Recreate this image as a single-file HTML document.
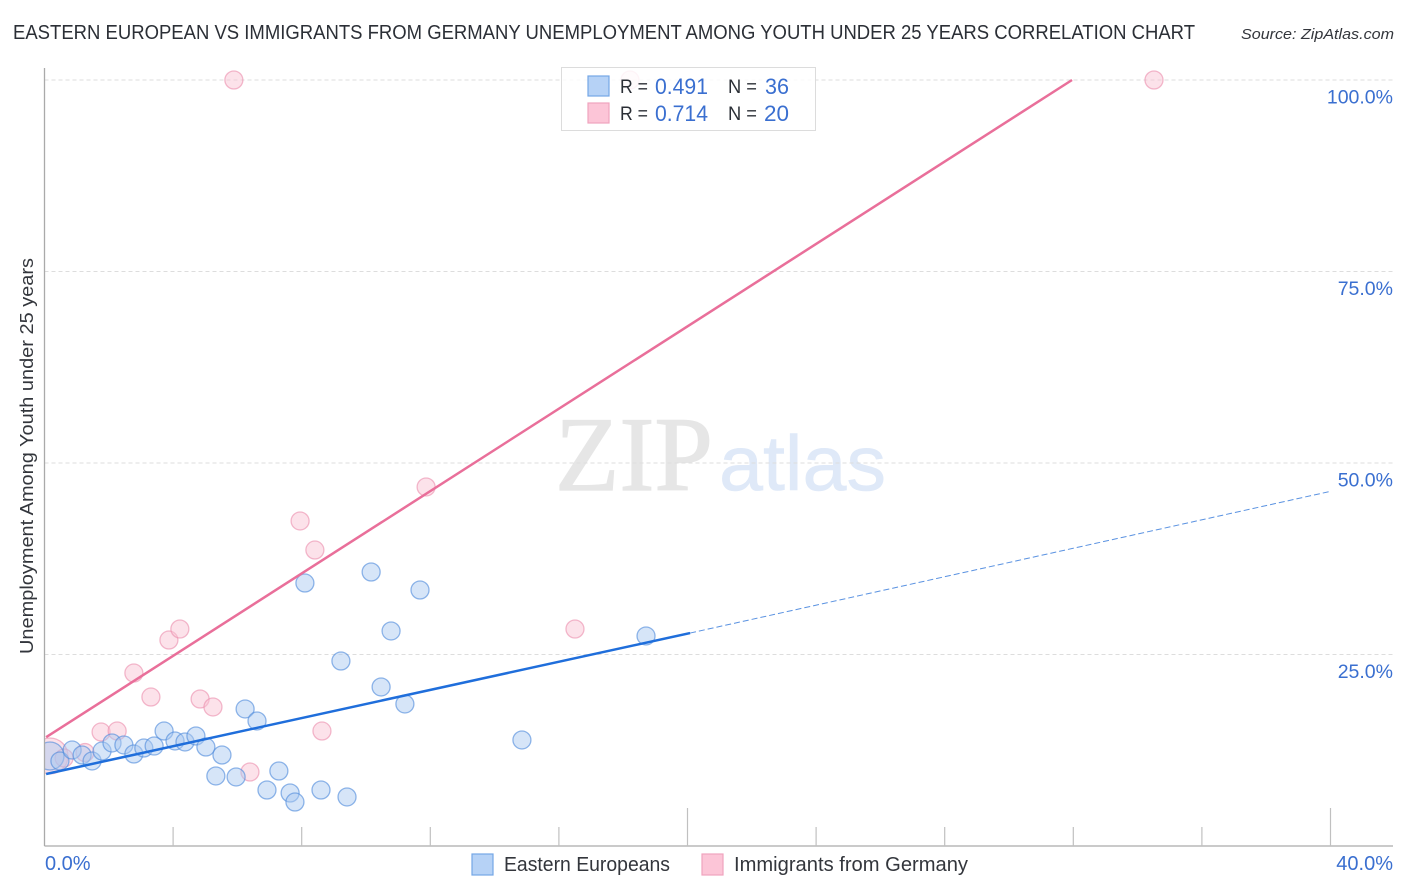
<!DOCTYPE html>
<html>
<head>
<meta charset="utf-8">
<style>
html,body{margin:0;padding:0;background:#fff;}
svg{display:block;}
text{font-family:"Liberation Sans",sans-serif;}
</style>
</head>
<body>
<svg id="chart" width="1406" height="892" viewBox="0 0 1406 892" xmlns="http://www.w3.org/2000/svg">
  <text x="13" y="39" font-size="20" fill="#2b2f36" textLength="1182" lengthAdjust="spacingAndGlyphs">EASTERN EUROPEAN VS IMMIGRANTS FROM GERMANY UNEMPLOYMENT AMONG YOUTH UNDER 25 YEARS CORRELATION CHART</text>
  <text x="1241" y="39" font-size="15" font-style="italic" fill="#33363c" textLength="153" lengthAdjust="spacingAndGlyphs">Source: ZipAtlas.com</text>

  <g>
    <text x="555" y="490" style="font-family:'Liberation Serif',serif" font-size="106" fill="#e6e6e6" stroke="#e6e6e6" stroke-width="1.2" textLength="158" lengthAdjust="spacingAndGlyphs">ZIP</text>
    <text x="719" y="490" font-size="78" fill="#dfe9f8" stroke="#dfe9f8" stroke-width="0.6" textLength="167" lengthAdjust="spacingAndGlyphs">atlas</text>
  </g>

  <g id="grid"></g>
  <g id="pink-points"></g>
  <g id="blue-points"></g>
  <rect x="0" y="725" width="44.5" height="60" fill="#fff"/>
  <g id="axes"></g>
  <g id="trends"></g>
  <g id="labels"></g>

  <text transform="translate(33,654) rotate(-90)" x="0" y="0" font-size="18" fill="#33363c" textLength="396" lengthAdjust="spacingAndGlyphs">Unemployment Among Youth under 25 years</text>

  <g>
    <rect x="561.5" y="67.5" width="254" height="63" fill="#fff" fill-opacity="0.85" stroke="#dcdcdc"/>
    <rect x="588" y="76" width="21" height="20" fill="#b6d2f6" stroke="#74a6e6" stroke-width="1.2"/>
    <rect x="588" y="103" width="21" height="20" fill="#fcc5d7" stroke="#f0a4bd" stroke-width="1.2"/>
    <text x="620" y="93" font-size="19" fill="#2b2f36" textLength="28" lengthAdjust="spacingAndGlyphs">R =</text>
    <text x="655" y="94" font-size="22" fill="#3a6fd0" textLength="53" lengthAdjust="spacingAndGlyphs">0.491</text>
    <text x="728" y="93" font-size="19" fill="#2b2f36" textLength="29" lengthAdjust="spacingAndGlyphs">N =</text>
    <text x="765" y="94" font-size="22" fill="#3a6fd0" textLength="24" lengthAdjust="spacingAndGlyphs">36</text>
    <text x="620" y="120" font-size="19" fill="#2b2f36" textLength="28" lengthAdjust="spacingAndGlyphs">R =</text>
    <text x="655" y="121" font-size="22" fill="#3a6fd0" textLength="53" lengthAdjust="spacingAndGlyphs">0.714</text>
    <text x="728" y="120" font-size="19" fill="#2b2f36" textLength="29" lengthAdjust="spacingAndGlyphs">N =</text>
    <text x="764" y="121" font-size="22" fill="#3a6fd0" textLength="25" lengthAdjust="spacingAndGlyphs">20</text>
  </g>

  <g>
    <g>
      <rect x="472" y="854" width="21" height="21" fill="#b6d2f6" stroke="#74a6e6" stroke-width="1.2"/>
      <text x="504" y="871" font-size="20" fill="#33363c" textLength="166" lengthAdjust="spacingAndGlyphs">Eastern Europeans</text>
    </g>
    <g>
      <rect x="702" y="854" width="21" height="21" fill="#fcc5d7" stroke="#f0a4bd" stroke-width="1.2"/>
      <text x="734" y="871" font-size="20" fill="#33363c" textLength="234" lengthAdjust="spacingAndGlyphs">Immigrants from Germany</text>
    </g>
  </g>
</svg>

<script>
const blueX = [0.17,0.48,0.86,1.17,1.48,1.79,2.10,2.47,2.78,3.09,3.41,3.72,4.06,4.37,4.71,5.02,5.52,5.33,5.96,6.24,6.61,6.92,7.29,7.64,7.79,8.60,9.41,8.10,10.16,11.68,10.78,9.22,10.47,11.21,14.85,18.71];
const blueY = [11.75,11.10,12.53,11.88,11.10,12.40,13.45,13.19,12.01,12.79,13.05,15.01,13.71,13.58,14.36,12.92,11.88,9.14,9.01,17.89,16.32,7.31,9.79,6.92,5.74,7.31,6.40,34.33,35.77,33.42,28.07,24.15,20.76,18.54,13.84,27.42];
const blueLargeWeight = 2.42;
const pinkX = [0.17,0.61,1.26,1.76,2.26,2.78,3.31,3.87,4.21,4.84,5.24,6.39,8.63,7.95,8.41,11.87,16.50,5.89,18.21,34.51];
const pinkY = [11.75,11.49,12.20,14.88,15.01,22.58,19.45,26.89,28.33,19.19,18.15,9.66,15.01,42.43,38.64,46.87,28.33,100,100,100];
const pinkLargeWeight = 4;
const blueTrendX = [0.05,20.08];
const blueTrendY = [9.4,27.8];
const blueForecastX = [20.08,40];
const blueForecastY = [27.8,46.3];
const pinkTrendX = [0.05,31.96];
const pinkTrendY = [14.2,100];
const yTicks = [25,50,75,100];
const yTickLabels = ["25.0%","50.0%","75.0%","100.0%"];
const xTicks = [4,8,12,16,20,24,28,32,36,40];
const xMajorTicks = [20,40];
const xEndTicks = [0,40];
const xEndLabels = ["0.0%","40.0%"];

const NS = 'http://www.w3.org/2000/svg';
const X0 = 44.5, X1 = 1330.5, Y0 = 846, Y100 = 80;
function sx(v){ return X0 + (X1 - X0) * v / 40; }
function sy(v){ return Y0 + (Y100 - Y0) * v / 100; }
function radius(weight){ return 9 * Math.sqrt(weight); }
function mk(tag, attrs){
  const el = document.createElementNS(NS, tag);
  for (const k in attrs) el.setAttribute(k, attrs[k]);
  return el;
}

const grid = document.getElementById('grid');
yTicks.forEach(function(t){
  const l = mk('line', {x1:X0, x2:1393, y1:sy(t), y2:sy(t), stroke:'#dddddd', 'stroke-width':1, 'stroke-dasharray':'4 3'});
  
  
  grid.appendChild(l);
});

const axes = document.getElementById('axes');
const yLine = mk('line', {x1:X0, x2:X0, y1:68, y2:Y0, stroke:'#aaaaaa', 'stroke-width':1.3});


axes.appendChild(yLine);
const xLine = mk('line', {x1:X0, x2:1393, y1:Y0, y2:Y0, stroke:'#aaaaaa', 'stroke-width':1.3});


axes.appendChild(xLine);
xTicks.forEach(function(t){
  const top = xMajorTicks.indexOf(t) >= 0 ? 808 : 827;
  const l = mk('line', {x1:sx(t), x2:sx(t), y1:top, y2:Y0, stroke:'#c0c0c0', 'stroke-width':1.2});
  
  
  axes.appendChild(l);
});

function drawPoints(groupId, xs, ys, largeWeight, fill, stroke, name){
  const g = document.getElementById(groupId);
  xs.forEach(function(x, i){
    const w = i === 0 ? largeWeight : 1;
    const c = mk('circle', {cx:sx(x), cy:sy(ys[i]), r:radius(w), fill:fill, 'fill-opacity':0.48, stroke:stroke, 'stroke-opacity':0.62, 'stroke-width':1.3});
    
    
    g.appendChild(c);
  });
}
drawPoints('pink-points', pinkX, pinkY, pinkLargeWeight, '#f9c3d4', '#ec8fae', 'immigrants-point');
drawPoints('blue-points', blueX, blueY, blueLargeWeight, '#a9c9f1', '#4f8adb', 'eastern-europeans-point');

const trends = document.getElementById('trends');
const blueForecast = mk('line', {x1:sx(blueForecastX[0]), y1:sy(blueForecastY[0]), x2:sx(blueForecastX[1]), y2:sy(blueForecastY[1]), stroke:'#3d7fdc', 'stroke-width':1, 'stroke-opacity':0.85, 'stroke-dasharray':'6 3'});


trends.appendChild(blueForecast);
const blueTrend = mk('line', {x1:sx(blueTrendX[0]), y1:sy(blueTrendY[0]), x2:sx(blueTrendX[1]), y2:sy(blueTrendY[1]), stroke:'#1f6edb', 'stroke-width':2.5});


trends.appendChild(blueTrend);
const pinkTrend = mk('line', {x1:sx(pinkTrendX[0]), y1:sy(pinkTrendY[0]), x2:sx(pinkTrendX[1]), y2:sy(pinkTrendY[1]), stroke:'#e96f9a', 'stroke-width':2.5});


trends.appendChild(pinkTrend);

const labels = document.getElementById('labels');
yTicks.forEach(function(t, i){
  const txt = mk('text', {x:1393, y:sy(t) + 23.5, 'text-anchor':'end', 'font-size':19.5, fill:'#3a6fd0'});
  txt.textContent = yTickLabels[i];
  
  
  labels.appendChild(txt);
});
xEndTicks.forEach(function(t, i){
  const anchorEnd = i === 1;
  const txt = mk('text', {x: anchorEnd ? 1393 : 45, y:870, 'text-anchor': anchorEnd ? 'end' : 'start', 'font-size':20, fill:'#3a6fd0'});
  txt.textContent = xEndLabels[i];
  
  
  labels.appendChild(txt);
});
</script>
</body>
</html>
